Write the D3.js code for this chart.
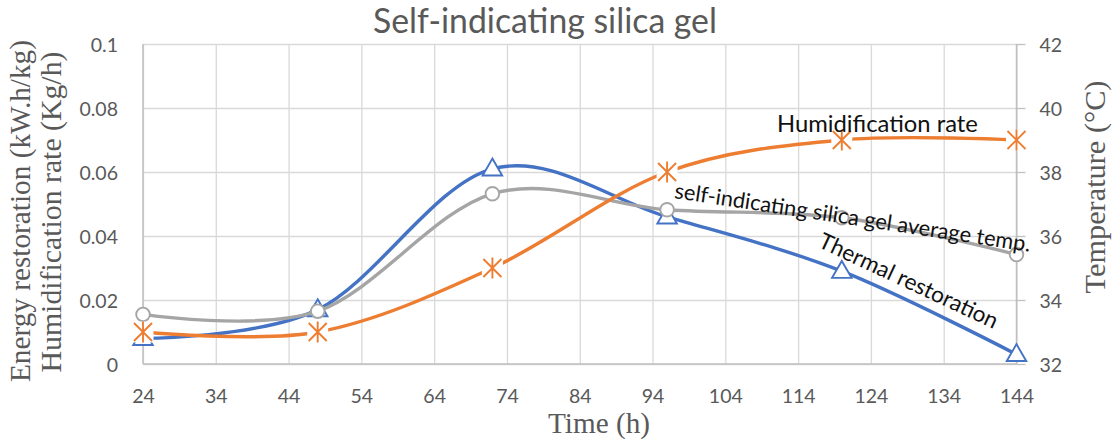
<!DOCTYPE html>
<html>
<head>
<meta charset="utf-8">
<script src="https://cdn.jsdelivr.net/npm/d3@7/dist/d3.min.js"></script>
<style>
  html, body { margin: 0; padding: 0; background: #fff; }
  svg { display: block; }
</style>
</head>
<body>
<svg id="chart" width="1113" height="439"></svg>
<script>
// Sampling times (h)
const hours = [24, 48, 72, 96, 120, 144];
// Primary axis series
const thermalRestoration = [0.008, 0.017, 0.061, 0.046, 0.029, 0.003];   // kW.h/kg
const humidificationRate = [0.010, 0.010, 0.030, 0.060, 0.070, 0.070];   // Kg/h
// Secondary axis series
const averageTemp = [33.55, 33.65, 37.32, 36.82, 36.57, 35.42];          // °C

const xTicks = [24, 34, 44, 54, 64, 74, 84, 94, 104, 114, 124, 134, 144];
const yTicks = [0, 0.02, 0.04, 0.06, 0.08, 0.1];
const yTickLabels = ["0", "0.02", "0.04", "0.06", "0.08", "0.1"];
const y2Ticks = [32, 34, 36, 38, 40, 42];

const BLUE = "#4472C4", ORANGE = "#ED7D31", GRAY = "#A5A5A5";
const TEXT = "#595959", GRID = "#D9D9D9", AXIS = "#BFBFBF";
const SANS = "Lato, 'Open Sans', sans-serif";
const SERIF = "'Liberation Serif', 'Times New Roman', serif";

const svg = d3.select("#chart");
const plot = { left: 143, right: 1016.5, top: 44, bottom: 364 };

const x = d3.scaleLinear().domain([24, 144]).range([plot.left, plot.right]);
const y = d3.scaleLinear().domain([0, 0.1]).range([plot.bottom, plot.top]);
const y2 = d3.scaleLinear().domain([32, 42]).range([plot.bottom, plot.top]);

// Shrink or grow a text element's font so it spans the given width
function fitWidth(sel, width) {
  const node = sel.node();
  const fs = parseFloat(sel.attr("font-size"));
  const w = node.getComputedTextLength();
  if (w > 0) sel.attr("font-size", (fs * width / w).toFixed(2));
  return sel;
}

// Gridlines
svg.append("g")
  .attr("transform", `translate(0,${plot.bottom})`)
  .call(d3.axisBottom(x).tickValues(xTicks).tickSize(-(plot.bottom - plot.top)).tickFormat(""))
  .call(g => g.select(".domain").remove())
  .call(g => g.selectAll("line").attr("stroke", GRID).attr("stroke-width", 1.3));
svg.append("g")
  .attr("transform", `translate(${plot.left},0)`)
  .call(d3.axisLeft(y).tickValues(yTicks).tickSize(-(plot.right - plot.left)).tickFormat(""))
  .call(g => g.select(".domain").remove())
  .call(g => g.selectAll("line").attr("stroke", GRID).attr("stroke-width", 1.3));

// Axis lines
svg.append("line").attr("x1", plot.left).attr("x2", plot.left)
  .attr("y1", plot.top).attr("y2", plot.bottom).attr("stroke", AXIS).attr("stroke-width", 1.5);
svg.append("line").attr("x1", plot.left).attr("x2", plot.right)
  .attr("y1", plot.bottom).attr("y2", plot.bottom).attr("stroke", AXIS).attr("stroke-width", 1.5);

// Bottom axis labels
const xAxis = svg.append("g")
  .attr("transform", `translate(0,${plot.bottom})`)
  .call(d3.axisBottom(x).tickValues(xTicks).tickSize(0).tickPadding(30))
  .call(g => g.select(".domain").remove());
xAxis.selectAll("text").attr("fill", TEXT).attr("font-family", SANS).attr("font-size", 19.5)
  .attr("dy", "0").attr("y", 39);

// Left axis labels
const yAxis = svg.append("g")
  .attr("transform", `translate(118,0)`)
  .call(d3.axisLeft(y).tickValues(yTicks).tickSize(0).tickPadding(0)
    .tickFormat((d, i) => yTickLabels[i]))
  .call(g => g.select(".domain").remove());
yAxis.selectAll("text").attr("fill", TEXT).attr("font-family", SANS).attr("font-size", 19.5)
  .attr("dy", "0.36em");

// Right (temperature) axis with outward ticks
const y2Axis = svg.append("g")
  .attr("transform", `translate(${plot.right},0)`)
  .call(d3.axisRight(y2).tickValues(y2Ticks).tickSize(9).tickPadding(14));
y2Axis.select(".domain").attr("stroke", AXIS).attr("stroke-width", 1.5).attr("d", `M0,${plot.top}V${plot.bottom}`);
y2Axis.selectAll("line").attr("stroke", AXIS).attr("stroke-width", 1.3);
y2Axis.selectAll("text").attr("fill", TEXT).attr("font-family", SANS).attr("font-size", 19.5)
  .attr("dy", "0.36em");

// Titles
fitWidth(svg.append("text").attr("x", 545).attr("y", 33).attr("text-anchor", "middle")
  .attr("fill", TEXT).attr("font-family", SANS).attr("font-size", 26)
  .text("Self-indicating silica gel"), 344);

fitWidth(svg.append("text").attr("x", 599).attr("y", 433).attr("text-anchor", "middle")
  .attr("fill", TEXT).attr("font-family", SERIF).attr("font-size", 28)
  .text("Time (h)"), 102);

fitWidth(svg.append("text").attr("transform", "translate(30,211) rotate(-90)")
  .attr("text-anchor", "middle").attr("fill", TEXT).attr("font-family", SERIF).attr("font-size", 28)
  .text("Energy restoration (kW.h/kg)"), 342);
fitWidth(svg.append("text").attr("transform", "translate(61,212) rotate(-90)")
  .attr("text-anchor", "middle").attr("fill", TEXT).attr("font-family", SERIF).attr("font-size", 28)
  .text("Humidification rate (Kg/h)"), 321);

fitWidth(svg.append("text").attr("transform", "translate(1105,187) rotate(-90)")
  .attr("text-anchor", "middle").attr("fill", TEXT).attr("font-family", SERIF).attr("font-size", 28)
  .text("Temperature (°C)"), 213);

// Series lines (smoothed)
const curve = d3.curveCatmullRom.alpha(0);
const line1 = d3.line().curve(curve).x((d, i) => x(hours[i])).y(d => y(d));
const line2 = d3.line().curve(curve).x((d, i) => x(hours[i])).y(d => y2(d));

// Thermal restoration
svg.append("path").datum(thermalRestoration).attr("d", line1)
  .attr("fill", "none").attr("stroke", BLUE).attr("stroke-width", 3.4).attr("stroke-linecap", "round");
const tri = d3.symbol().type(d3.symbolTriangle).size(165);
svg.append("g").selectAll("path").data(thermalRestoration).join("path")
  .attr("d", tri)
  .attr("transform", (d, i) => `translate(${x(hours[i])},${y(d) + 1})`)
  .attr("fill", "#fff").attr("stroke", BLUE).attr("stroke-width", 1.9);

// Average temperature
svg.append("path").datum(averageTemp).attr("d", line2)
  .attr("fill", "none").attr("stroke", GRAY).attr("stroke-width", 3.4).attr("stroke-linecap", "round");
svg.append("g").selectAll("circle").data(averageTemp).join("circle")
  .attr("cx", (d, i) => x(hours[i])).attr("cy", d => y2(d)).attr("r", 6.8)
  .attr("fill", "#fff").attr("stroke", GRAY).attr("stroke-width", 1.9);

// Humidification rate
svg.append("path").datum(humidificationRate).attr("d", line1)
  .attr("fill", "none").attr("stroke", ORANGE).attr("stroke-width", 3.4).attr("stroke-linecap", "round");
const star = svg.append("g").selectAll("g").data(humidificationRate).join("g")
  .attr("transform", (d, i) => `translate(${x(hours[i])},${y(d)})`);
star.append("rect").attr("x", -10.5).attr("y", -10.5).attr("width", 21).attr("height", 21).attr("fill", "#fff");
star.append("path").attr("d", "M-9,-9L9,9M-9,9L9,-9M0,-10.5V10.5")
  .attr("stroke", ORANGE).attr("stroke-width", 1.9).attr("fill", "none");

// Series labels
fitWidth(svg.append("text").attr("x", x(124.9)).attr("y", y(0.0725)).attr("text-anchor", "middle")
  .attr("fill", "#111").attr("font-family", SANS).attr("font-size", 18)
  .text("Humidification rate"), 201);

fitWidth(svg.append("text")
  .attr("transform", `translate(${x(96.9)},${y(0.0519)}) rotate(8.6)`)
  .attr("fill", "#111").attr("font-family", SANS).attr("font-size", 18)
  .text("self-indicating silica gel average temp."), 360);

fitWidth(svg.append("text")
  .attr("transform", `translate(${x(116.6)},${y(0.0367)}) rotate(25)`)
  .attr("fill", "#111").attr("font-family", SANS).attr("font-size", 18)
  .text("Thermal restoration"), 195);
</script>
</body>
</html>
